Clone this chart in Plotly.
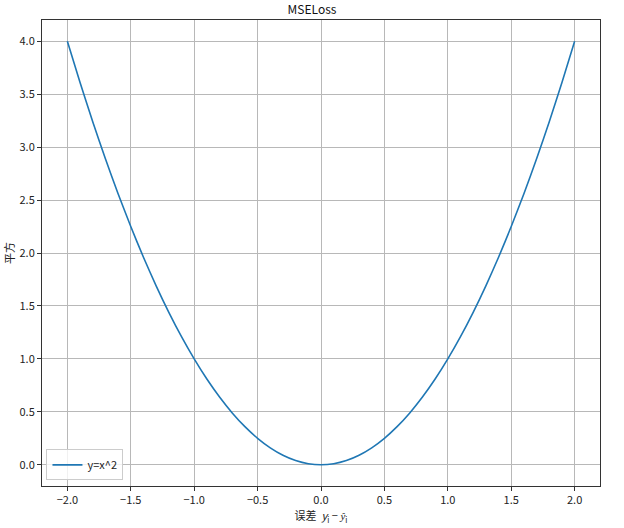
import plotly.graph_objects as go

x_vals = [-2.0, -1.9, -1.8, -1.7, -1.6, -1.5, -1.4, -1.3, -1.2, -1.1, -1.0,
          -0.9, -0.8, -0.7, -0.6, -0.5, -0.4, -0.3, -0.2, -0.1, 0.0,
          0.1, 0.2, 0.3, 0.4, 0.5, 0.6, 0.7, 0.8, 0.9, 1.0,
          1.1, 1.2, 1.3, 1.4, 1.5, 1.6, 1.7, 1.8, 1.9, 2.0]
y_vals = [4.0, 3.61, 3.24, 2.89, 2.56, 2.25, 1.96, 1.69, 1.44, 1.21, 1.0,
          0.81, 0.64, 0.49, 0.36, 0.25, 0.16, 0.09, 0.04, 0.01, 0.0,
          0.01, 0.04, 0.09, 0.16, 0.25, 0.36, 0.49, 0.64, 0.81, 1.0,
          1.21, 1.44, 1.69, 1.96, 2.25, 2.56, 2.89, 3.24, 3.61, 4.0]
x_ticks = [-2.0, -1.5, -1.0, -0.5, 0.0, 0.5, 1.0, 1.5, 2.0]
y_ticks = [0.0, 0.5, 1.0, 1.5, 2.0, 2.5, 3.0, 3.5, 4.0]

FONT = "Noto Sans CJK SC"

fig = go.Figure()
fig.add_trace(go.Scatter(x=x_vals, y=y_vals, mode="lines", name="y=x^2",
                         line=dict(color="#1f77b4", width=1.6, shape="spline", smoothing=0.6)))

fig.update_layout(
    width=624, height=528,
    margin=dict(l=42, r=24, t=20, b=42),
    paper_bgcolor="white", plot_bgcolor="white",
    font=dict(family=FONT, size=11, color="#222"),
    title=dict(text="MSELoss", x=0.5, xanchor="center", y=0.981, yanchor="middle",
               font=dict(family=FONT, size=12, color="#111")),
    showlegend=True,
    legend=dict(x=0.008, y=0.012, xanchor="left", yanchor="bottom",
                bgcolor="rgba(255,255,255,0.8)", bordercolor="#cccccc", borderwidth=1,
                font=dict(family=FONT, size=11)),
)
fig.update_xaxes(range=[-2.2, 2.2], tickvals=x_ticks, automargin=False,
                 ticktext=[f"{v:.1f}".replace("-", "−") for v in x_ticks],
                 showgrid=True, gridcolor="#b8b8b8", gridwidth=1,
                 showline=True, linecolor="#333", linewidth=1, mirror=True,
                 ticks="outside", ticklen=4, tickcolor="#333", zeroline=False,
                 title=dict(text="误差  <i>y</i><sub>i</sub> − <i>ŷ</i><sub>i</sub>",
                            standoff=2, font=dict(size=11)))
fig.update_yaxes(range=[-0.2, 4.2], tickvals=y_ticks, automargin=False,
                 ticktext=[f"{v:.1f}" for v in y_ticks],
                 showgrid=True, gridcolor="#b8b8b8", gridwidth=1,
                 showline=True, linecolor="#333", linewidth=1, mirror=True,
                 ticks="outside", ticklen=4, tickcolor="#333", zeroline=False,
                 title=dict(text="平方", standoff=2, font=dict(size=11)))

fig.write_html("out.html", config={"displayModeBar": False},
               post_script="document.body.style.margin='0';document.body.style.overflow='hidden';")
